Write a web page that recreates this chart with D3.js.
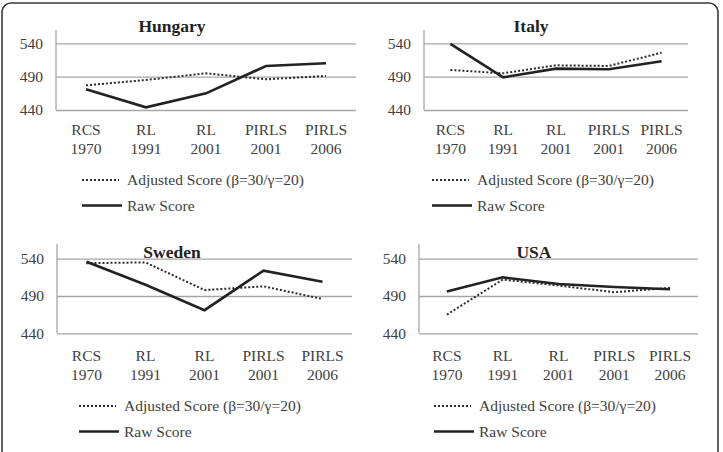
<!DOCTYPE html>
<html lang="en">
<head>
<meta charset="UTF-8">
<title>Raw vs Adjusted Reading Scores</title>
<script src="https://d3js.org/d3.v7.min.js"></script>
<style>
  body { margin: 0; background: #fff; }
  svg text { font-family: "Liberation Serif", "Times New Roman", "DejaVu Serif", serif; }
  .grid line { stroke: #a6a6a6; stroke-width: 1.3; }
</style>
</head>
<body>
<div id="chart"></div>
<script>
  // categories (two-line tick labels)
  const categories = ["RCS 1970", "RL 1991", "RL 2001", "PIRLS 2001", "PIRLS 2006"];
  const yTicks = [440, 490, 540];

  // values
  const hungaryRaw = [471, 444, 465, 506, 510];
  const hungaryAdj = [477, 485, 495, 486, 491];
  const italyRaw   = [539, 489, 502, 501, 513];
  const italyAdj   = [500, 495, 507, 506, 526];
  const swedenRaw  = [536, 505, 471, 524, 509];
  const swedenAdj  = [534, 535, 498, 503, 486];
  const usaRaw     = [496, 515, 506, 502, 499];
  const usaAdj     = [465, 512, 504, 495, 501];

  const seriesNames = ["Adjusted Score (\u03B2=30/\u03B3=20)", "Raw Score"];

  const W = 723, H = 452;
  const svg = d3.select("#chart").append("svg")
    .attr("width", W).attr("height", H)
    .attr("font-family", "'Liberation Serif', 'Times New Roman', serif");

  // outer frame
  svg.append("rect")
    .attr("x", 2).attr("y", 3)
    .attr("width", 716).attr("height", 470)
    .attr("rx", 9)
    .attr("fill", "none")
    .attr("stroke", "#3a3a3a")
    .attr("stroke-width", 1.6);

  const panels = [
    {name: "Hungary", raw: hungaryRaw, adj: hungaryAdj, left: 56, right: 356, top: 43.3, bottom: 110, axisTop: 30, oy: 0, titleX: 172, legX: 82},
    {name: "Italy",   raw: italyRaw,   adj: italyAdj,   left: 424, right: 688, top: 43.3, bottom: 110, axisTop: 30, oy: 0, titleX: 531, legX: 432},
    {name: "Sweden",  raw: swedenRaw,  adj: swedenAdj,  left: 57, right: 352, top: 258.7, bottom: 333.3, axisTop: 244, oy: 226, titleX: 172, legX: 79},
    {name: "USA",     raw: usaRaw,     adj: usaAdj,     left: 419, right: 698, top: 258.7, bottom: 333.3, axisTop: 244, oy: 226, titleX: 534, legX: 434}
  ];

  panels.forEach(p => {
    const g = svg.append("g");

    const x = d3.scaleBand().domain(categories).range([p.left, p.right]).padding(0);
    const y = d3.scaleLinear().domain([440, 540]).range([p.bottom, p.top]);
    const cx = c => x(c) + x.bandwidth() / 2;

    // gridlines
    g.append("g")
      .attr("class", "grid")
      .attr("transform", `translate(${p.left},0)`)
      .call(d3.axisLeft(y).tickValues(yTicks).tickSize(-(p.right - p.left)).tickFormat(""))
      .call(a => a.select(".domain").remove());

    // vertical axis line
    g.append("line")
      .attr("x1", p.left).attr("x2", p.left)
      .attr("y1", p.axisTop).attr("y2", p.bottom)
      .attr("stroke", "#a6a6a6").attr("stroke-width", 1.3);

    // y tick labels
    g.selectAll(".ytl")
      .data(yTicks)
      .join("text")
      .attr("x", p.left - 13)
      .attr("y", d => y(d))
      .attr("dy", "0.35em")
      .attr("text-anchor", "end")
      .style("font-size", "15.5px")
      .attr("fill", "#404040")
      .text(d => d);

    // x category labels
    const xl = g.selectAll(".xtl")
      .data(categories)
      .join("text")
      .attr("text-anchor", "middle")
      .style("font-size", "15.5px")
      .attr("fill", "#404040");
    xl.append("tspan")
      .attr("x", d => cx(d)).attr("y", p.oy + 135)
      .text(d => d.split(" ")[0]);
    xl.append("tspan")
      .attr("x", d => cx(d)).attr("y", p.oy + 153.5)
      .text(d => d.split(" ")[1]);

    const line = d3.line()
      .x((d, i) => cx(categories[i]))
      .y(d => y(d));

    // adjusted (dotted)
    g.append("path")
      .datum(p.adj)
      .attr("d", line)
      .attr("fill", "none")
      .attr("stroke", "#2b2b2b")
      .attr("stroke-width", 2)
      .attr("stroke-dasharray", "2,2");

    // raw (solid)
    g.append("path")
      .datum(p.raw)
      .attr("d", line)
      .attr("fill", "none")
      .attr("stroke", "#222")
      .attr("stroke-width", 2.6);

    // title
    g.append("text")
      .attr("x", p.titleX).attr("y", p.oy + 32)
      .attr("text-anchor", "middle")
      .style("font-size", "17.5px")
      .style("font-weight", "bold")
      .attr("fill", "#222")
      .text(p.name);

    // legend
    const ly = [p.oy + 180, p.oy + 205.5];
    g.append("line")
      .attr("x1", p.legX).attr("x2", p.legX + 37)
      .attr("y1", ly[0]).attr("y2", ly[0])
      .attr("stroke", "#2b2b2b").attr("stroke-width", 2)
      .attr("stroke-dasharray", "2,2");
    g.append("line")
      .attr("x1", p.legX).attr("x2", p.legX + 40)
      .attr("y1", ly[1]).attr("y2", ly[1])
      .attr("stroke", "#222").attr("stroke-width", 2.6);
    g.selectAll(".leg")
      .data(seriesNames)
      .join("text")
      .attr("x", p.legX + 45)
      .attr("y", (d, i) => ly[i])
      .attr("dy", "0.35em")
      .style("font-size", "15.5px")
      .attr("fill", "#404040")
      .text(d => d);
  });
</script>
</body>
</html>
